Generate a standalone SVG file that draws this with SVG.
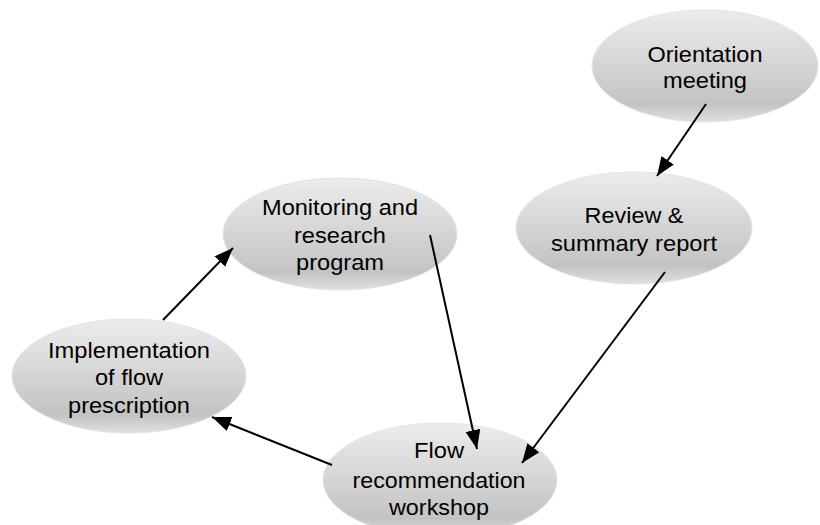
<svg xmlns="http://www.w3.org/2000/svg" width="820" height="525" viewBox="0 0 820 525">
<defs>
<linearGradient id="g" x1="0" y1="0" x2="0" y2="1">
<stop offset="0" stop-color="#ececec"/>
<stop offset="0.5" stop-color="#d4d4d4"/>
<stop offset="0.84" stop-color="#c3c3c3"/>
<stop offset="1" stop-color="#e0e0e0"/>
</linearGradient>
<marker id="ah" markerUnits="userSpaceOnUse" markerWidth="20" markerHeight="16" refX="19" refY="7.5" orient="auto">
<path d="M0,0 L19,7.5 L0,15 z" fill="#000"/>
</marker>
</defs>
<style>
.n ellipse{fill:url(#g);stroke:#e4e4e4;stroke-width:1}
.n text{font-family:"Liberation Sans",Arial,sans-serif;font-size:21.5px;fill:#000;text-anchor:middle}
.c line{stroke:#000;stroke-width:2;marker-end:url(#ah)}
</style>
<rect width="820" height="525" fill="#fff"/>
<g id="orientation" class="n">
<ellipse cx="705" cy="66" rx="113" ry="56"/>
<text x="705" y="62" textLength="115" lengthAdjust="spacingAndGlyphs">Orientation</text>
<text x="705" y="88" textLength="84" lengthAdjust="spacingAndGlyphs">meeting</text>
</g>
<g id="review" class="n">
<ellipse cx="634" cy="228" rx="118" ry="56"/>
<text x="634" y="223" textLength="99" lengthAdjust="spacingAndGlyphs">Review &amp;</text>
<text x="634" y="251" textLength="166" lengthAdjust="spacingAndGlyphs">summary report</text>
</g>
<g id="monitoring" class="n">
<ellipse cx="340" cy="234" rx="117" ry="56"/>
<text x="340" y="215" textLength="156" lengthAdjust="spacingAndGlyphs">Monitoring and</text>
<text x="340" y="243" textLength="92" lengthAdjust="spacingAndGlyphs">research</text>
<text x="340" y="270" textLength="88" lengthAdjust="spacingAndGlyphs">program</text>
</g>
<g id="implementation" class="n">
<ellipse cx="129" cy="376" rx="117" ry="57"/>
<text x="129" y="358" textLength="162" lengthAdjust="spacingAndGlyphs">Implementation</text>
<text x="129" y="385" textLength="68" lengthAdjust="spacingAndGlyphs">of flow</text>
<text x="129" y="413" textLength="122" lengthAdjust="spacingAndGlyphs">prescription</text>
</g>
<g id="workshop" class="n">
<ellipse cx="440" cy="480" rx="117" ry="57"/>
<text x="439" y="458" textLength="50" lengthAdjust="spacingAndGlyphs">Flow</text>
<text x="439" y="488" textLength="173" lengthAdjust="spacingAndGlyphs">recommendation</text>
<text x="439" y="515" textLength="100" lengthAdjust="spacingAndGlyphs">workshop</text>
</g>
<g id="connectors" class="c">
<line x1="706" y1="104" x2="657" y2="176"/>
<line x1="665" y1="272" x2="522" y2="463"/>
<line x1="430" y1="235" x2="477" y2="449"/>
<line x1="332" y1="465" x2="212" y2="417"/>
<line x1="163" y1="320" x2="233" y2="248"/>
</g>
</svg>
